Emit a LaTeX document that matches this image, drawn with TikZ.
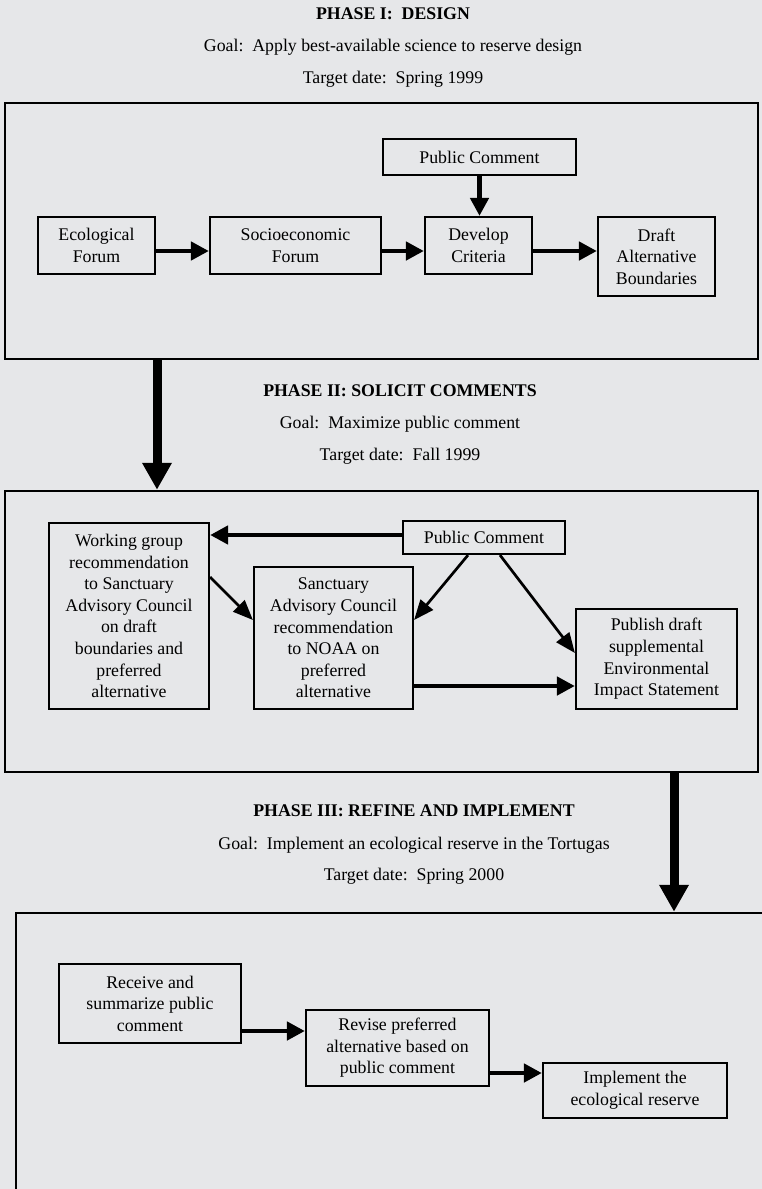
\documentclass[tikz,border=0pt]{standalone}
\usepackage{fontspec}
\setmainfont{Liberation Serif}
\usetikzlibrary{arrows.meta}
\definecolor{paper}{HTML}{E6E7E9}
\frenchspacing

\begin{document}
\begin{tikzpicture}[x=1pt, y=-1pt,
    box/.style={draw, line width=2.2pt, inner sep=0pt, align=center, font=\fontsize{17.8}{21.6}\selectfont},
    frame/.style={draw, line width=2.5pt, inner sep=0pt},
    title/.style={inner sep=0pt, font=\fontsize{17.8}{21.6}\selectfont},
    flow/.style={line width=4.5pt, -{Triangle[length=18pt, width=18pt]}},
    thin flow/.style={line width=2.7pt, -{Triangle[length=20pt, width=16pt]}},
    phase/.style={line width=9pt, -{Triangle[length=27pt, width=28pt]}}]
  \useasboundingbox (0,0) rectangle (762,1189);
  \clip (0,0) rectangle (762,1189);
  \fill[paper] (0,0) rectangle (762,1189);

  \node[title, font=\fontsize{17.8}{21.6}\selectfont\bfseries] (t1) at (393,14) {PHASE I:~ DESIGN};
  \node[title] (g1) at (393,47) {Goal:~ Apply best-available science to reserve design};
  \node[title] (d1) at (393,79) {Target date:~ Spring 1999};
  \node[frame, minimum width=753pt, minimum height=256pt] (frame1) at (381.5,231) {};

  \node[box, minimum width=193pt, minimum height=36pt] (pc1) at (479.5,157) {Public Comment};
  \node[box, minimum width=117pt, minimum height=57pt] (eco) at (96.5,245.5) {Ecological\\Forum};
  \node[box, minimum width=171pt, minimum height=57pt] (soc) at (295.5,245.5) {Socioeconomic\\Forum};
  \node[box, minimum width=107pt, minimum height=57pt] (dev) at (478.5,245.5) {Develop\\Criteria};
  \node[box, minimum width=117pt, minimum height=79pt] (drf) at (656.5,256.5) {Draft\\Alternative\\Boundaries};

  \draw[flow] (pc1.south) -- (pc1.south |- dev.north);
  \draw[flow] (eco.east |- 0,251) -- (soc.west |- 0,251);
  \draw[flow] (soc.east |- 0,251) -- (dev.west |- 0,251);
  \draw[flow] (dev.east |- 0,251) -- (drf.west |- 0,251);

  \node[title, font=\fontsize{17.8}{21.6}\selectfont\bfseries] (t2) at (400,391) {PHASE II: SOLICIT COMMENTS};
  \node[title] (g2) at (400,424) {Goal:~ Maximize public comment};
  \node[title] (d2) at (400,456) {Target date:~ Fall 1999};
  \node[frame, minimum width=753pt, minimum height=281pt] (frame2) at (381.5,631.5) {};

  \node[box, minimum width=160pt, minimum height=186pt] (wg) at (129,616) {Working group\\recommendation\\to Sanctuary\\Advisory Council\\on draft\\boundaries and\\preferred\\alternative};
  \node[box, minimum width=162pt, minimum height=33pt] (pc2) at (484,537.5) {Public Comment};
  \node[box, minimum width=159pt, minimum height=142pt] (sac) at (333.5,638) {Sanctuary\\Advisory Council\\recommendation\\to NOAA on\\preferred\\alternative};
  \node[box, minimum width=161pt, minimum height=100pt] (pub) at (656.5,659) {Publish draft\\supplemental\\Environmental\\Impact Statement};

  \draw[flow] (pc2.west |- 0,535) -- (wg.east |- 0,535);
  \draw[thin flow] (wg.east |- 0,577) -- (sac.west |- 0,620);
  \draw[thin flow] (pc2.south -| 468,0) -- (sac.east |- 0,620);
  \draw[thin flow] (pc2.south -| 500,0) -- (pub.west |- 0,653);
  \draw[flow] (sac.east |- 0,686) -- (pub.west |- 0,686);

  \node[title, font=\fontsize{17.8}{21.6}\selectfont\bfseries] (t3) at (414,811) {PHASE III: REFINE AND IMPLEMENT};
  \node[title] (g3) at (414,845) {Goal:~ Implement an ecological reserve in the Tortugas};
  \node[title] (d3) at (414,876) {Target date:~ Spring 2000};
  \node[frame, minimum width=764pt, minimum height=297pt] (frame3) at (398,1061.5) {};

  \node[box, minimum width=182pt, minimum height=79pt] (rcv) at (150,1003.5) {Receive and\\summarize public\\comment};
  \node[box, minimum width=183pt, minimum height=76pt] (rev) at (397.5,1048) {Revise preferred\\alternative based on\\public comment};
  \node[box, minimum width=184pt, minimum height=55pt] (imp) at (635,1090.5) {Implement the\\ecological reserve};

  \draw[flow] (rcv.east |- 0,1031) -- (rev.west |- 0,1031);
  \draw[flow] (rev.east |- 0,1073) -- (imp.west |- 0,1073);

  \draw[phase] (frame1.south -| 157,0) -- (frame2.north -| 157,0);
  \draw[phase] (frame2.south -| 674,0) -- (frame3.north -| 674,0);
\end{tikzpicture}
\end{document}
